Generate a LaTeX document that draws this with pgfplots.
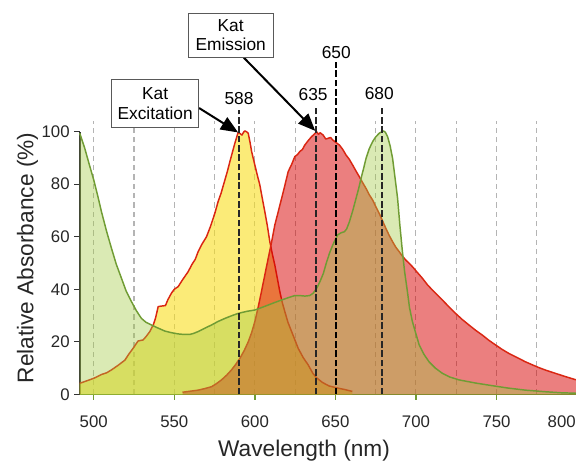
\documentclass[border=0pt]{standalone}
\usepackage{fontspec}
\setmainfont{Liberation Sans}
\usepackage{pgfplots}
\usepackage{pgfplotstable}
\pgfplotsset{compat=1.18}
\usetikzlibrary{arrows.meta}

\definecolor{yfill}{RGB}{248,222,30}
\definecolor{rfill}{RGB}{215,0,0}
\definecolor{gfill}{RGB}{162,202,67}
\definecolor{rline}{RGB}{218,38,18}
\definecolor{gline}{RGB}{112,156,52}
\definecolor{gridc}{RGB}{180,180,180}

\pgfplotstableread{
x y
491.3 4.2
495 5.0
500 6.1
505 7.6
508 8.2
511 9.3
515 11.0
519.3 13
522 15.5
524.4 17.5
527.5 20.3
530.6 20.7
532.5 22
534.8 23.9
537 26.5
538.3 28.9
540 33.4
542 33.6
544.5 33.8
546 36
548.2 38.5
550 40
552.4 41
555 43.5
558.6 46.7
561 49.5
563 51.4
564.8 54.3
567 57
570 60
572.5 64
575.2 69
577.2 73.4
579 76.5
581.4 81.6
583 85
584.5 88.6
586 92
587.6 95.6
589.6 99.7
591 99.2
592 98.7
593 99.8
593.8 100.3
595 99.9
595.9 99.4
597 96
598 92.4
600 87.3
601.5 83.5
603.1 79.7
604.5 75
606.2 69.5
607.8 64
609.3 58.1
611 53
612.4 49.2
614 44
615.5 39.1
617 35
618.6 31.5
620.5 27.5
622.8 23.9
625 20.5
626.9 17.5
630 14
633.1 11.2
636 8
638.3 6.3
642 4.5
646 3.2
652 2.3
656 1.8
660.5 1.1
}\yel

\pgfplotstableread{
x y
555.1 0.8
560 1.2
564.8 1.6
569 2.2
573.1 2.9
576 4
579.3 5.5
582.5 7.3
585.5 9.3
588 11.3
590.7 13.7
593.5 16.8
595.9 20
598 23.5
600 27.7
602 33
604.1 39.1
606.2 45.5
608.3 51.8
610.4 58
612.4 64.5
614.5 69.5
616.6 74.6
618.6 79.5
620.7 84.8
622.8 87.5
624.8 90.5
626.5 91.3
628 92.5
629.5 93.2
631 94.9
633 96.5
635.2 98.1
636.8 99
638.3 100
639.5 99
640.5 99.6
642.4 98.7
644 97.2
645.6 97.5
647 97.8
648.4 96.8
650.5 95.8
652.5 94.9
654.5 93.3
656.6 91.1
658.6 89.5
660.7 87.3
662.8 85
664.8 82.9
667 80.5
669 78.4
671 76
673.1 74
675.2 71.3
677.2 68.9
679.3 66
681.3 63.2
683.4 60.5
685.5 58.1
687.5 56
689.6 54.3
691.6 52.6
693.7 51.1
695.8 49.9
697.8 48.6
701 46.3
704 44.2
707 41.8
710.2 39.7
713.3 37.8
716.4 35.9
720.5 33.3
724.6 30.8
728.7 28.5
732.9 26.4
737 24.4
741.1 22.6
745.2 20.6
749.4 18.8
753.5 17.1
757.6 15.6
762.8 14
767.9 12.4
772 11.3
776.2 10.2
781 9.1
786.5 8
792 6.9
798.9 5.6
800 5.5
}\red

\pgfplotstableread{
x y
491.3 99.4
494.4 93.7
497 88
500 81.6
502.5 75.5
504.8 69.5
508 62
511 55.6
514 49.5
517.2 44.2
520 39.5
523.4 35.3
526.5 31.8
529.6 28.9
532.5 27.4
535.8 26.4
540 25.2
544.1 24.1
548 23.5
552.4 23
556 22.8
559.6 22.8
562 23.2
564.8 23.9
569 25.2
573.1 26.4
577 27.7
581.4 28.9
585.5 29.9
589.6 30.8
595 31.6
600 32.1
604 33
608.3 34
612.5 35
616.6 35.9
620.7 36.8
624.8 37.6
628 37.6
631 37.4
634 37.6
636.2 38.5
638.5 40.5
640.4 42.9
642.5 46
644.5 50.3
646.5 54
648.4 56.9
650 59
651.4 60.7
653.5 61.5
655.6 61.9
657 63
658.7 65.7
660.8 70
662.8 74.6
664.5 78.5
665.9 82.2
667.5 86
669 89.8
671 93.5
673.1 96.2
675 98
677.2 99.4
679.7 100.3
681 99.8
682.4 98.1
684 94.5
685.5 89.8
687 82.5
688.6 74.6
690 64.5
691.6 54.3
693 46.5
694.7 39.1
696 33
697.8 27.7
700 23
702 18.8
705 15.2
708.1 12.4
712 10
716.4 8
721 6.6
726.7 5.5
737 4.3
747.3 3.3
757 2.4
767.9 1.6
780 1.0
790 0.6
800 0.4
}\grn

\begin{document}
\begin{tikzpicture}
\useasboundingbox (-59.8pt,-53pt) rectangle (372.2pt,295.75pt);
\begin{axis}[
  scale only axis, width=373pt, height=197pt,
  xmin=491.3, xmax=800, ymin=0, ymax=100,
  clip=false,
  axis x line*=bottom, axis y line*=left,
  x axis line style={draw=gline, line width=1.1pt, -},
  y axis line style={draw=black!80, line width=1.5pt, -},
  xtick={500,550,...,800}, ytick={0,20,...,100},
  xticklabels={500,550,600,650,700,750,{\rlap{\hspace*{-11.5pt}800}\phantom{800}}},
  tick align=outside, major tick length=4pt,
  x tick style={draw=gline, line width=1.1pt},
  y tick style={draw=black!80, line width=1pt},
  ticklabel style={font=\fontsize{12.6}{15}\selectfont, text=black!85},
  xticklabel style={yshift=-8.5pt},
  /pgf/number format/assume math mode=true,
  xlabel={Wavelength (nm)}, ylabel={Relative Absorbance (\%)},
  label style={font=\fontsize{17}{20}\selectfont, text=black!85},
  xlabel style={at={(axis description cs:0.451,-0.215)}, anchor=center},
  ylabel style={at={(axis description cs:-0.105,0.519)}, anchor=center},
]
\pgfplotsinvokeforeach{500,525,...,775}{
  \draw[gridc, line width=0.8pt, dash pattern=on 4pt off 3pt] (axis cs:#1,0) -- (axis cs:#1,104);
}
% excitation (yellow)
\addplot[draw=none, fill=yfill, fill opacity=0.6] table {\yel} \closedcycle;
\addplot[rline, line width=1.1pt, line join=round] table {\yel};
% emission (red)
\addplot[draw=none, fill=rfill, fill opacity=0.5] table {\red} \closedcycle;
\addplot[rline, line width=1.1pt, line join=round] table {\red};
% absorbance (green)
\addplot[draw=none, fill=gfill, fill opacity=0.4] table {\grn} \closedcycle;
\addplot[gline, line width=1.1pt, line join=round] table {\grn};
% marker lines
\addplot[black!85, line width=1.4pt, dash pattern=on 5pt off 2pt] coordinates {(590.2,0) (590.2,108.3)};
\addplot[black!85, line width=1.4pt, dash pattern=on 5pt off 2pt] coordinates {(638.1,0) (638.1,109)};
\addplot[black, line width=1.5pt, dash pattern=on 5pt off 2pt] coordinates {(650.5,0) (650.5,126.6)};
\addplot[black!85, line width=1.4pt, dash pattern=on 5pt off 2pt] coordinates {(679,0) (679,110)};
\node[font=\fontsize{13}{15}\selectfont] at (axis cs:590.2,112.7) {588};
\node[font=\fontsize{13}{15}\selectfont] at (axis cs:636.2,114) {635};
\node[font=\fontsize{13}{15}\selectfont] at (axis cs:650.5,130.3) {650};
\node[font=\fontsize{13}{15}\selectfont] at (axis cs:677.2,114.4) {680};
% arrows and boxes
\draw[black, line width=1.5pt, -{Triangle[length=13pt,width=10.5pt]}] (axis cs:565.4,109) -- (axis cs:589.6,99.7);
\draw[black, line width=1.5pt, -{Triangle[length=13pt,width=10.5pt]}] (axis cs:592.8,128.4) -- (axis cs:637.5,100.3);
\node[draw=black!65, line width=0.8pt, fill=white, align=center, minimum width=65pt, minimum height=35.5pt, inner sep=2pt, font=\fontsize{13}{14.5}\selectfont] at (axis cs:538.1,110.7) {Kat\\Excitation};
\node[draw=black!65, line width=0.8pt, fill=white, align=center, minimum width=63.75pt, minimum height=33pt, inner sep=2pt, font=\fontsize{13}{14.5}\selectfont] at (axis cs:585,136.7) {Kat\\Emission};
\end{axis}
\end{tikzpicture}
\end{document}
